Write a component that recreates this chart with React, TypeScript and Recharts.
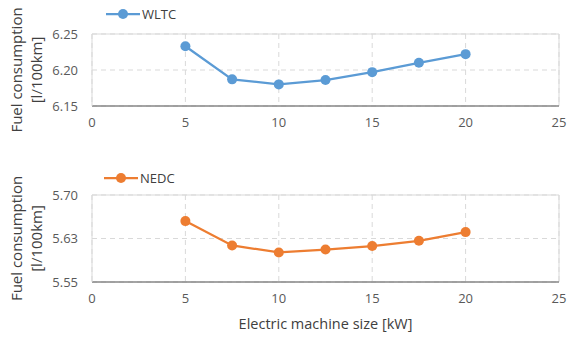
import {
  CartesianGrid,
  Legend,
  Line,
  LineChart,
  ReferenceLine,
  XAxis,
  YAxis,
} from "recharts";

const machineSize = [5, 7.5, 10, 12.5, 15, 17.5, 20];
const wltc = [6.233, 6.187, 6.18, 6.186, 6.197, 6.21, 6.222];
const nedc = [5.655, 5.613, 5.601, 5.606, 5.612, 5.621, 5.636];
const xTicks = [0, 5, 10, 15, 20, 25];
const wltcTicks = [6.15, 6.2, 6.25];
const nedcTicks = [5.55, 5.625, 5.7];

const wltcData = machineSize.map((x, i) => ({ x, value: wltc[i] }));
const nedcData = machineSize.map((x, i) => ({ x, value: nedc[i] }));

const FONT = "'Open Sans', sans-serif";
const TICK = { fill: "#595959", fontSize: 13, fontFamily: FONT };

const YTitle = (props: any) => {
  const { viewBox } = props;
  const cy = viewBox.y + viewBox.height / 2;
  return (
    <text
      transform={`translate(28, ${cy}) rotate(-90)`}
      textAnchor="middle"
      fill="#404040"
      fontSize={15}
      fontFamily={FONT}
    >
      <tspan x={0} dy="-0.4em">Fuel consumption</tspan>
      <tspan x={0} dy="1.35em">[l/100km]</tspan>
    </text>
  );
};

const makeLegend = (name: string, color: string) => () => (
  <div style={{ display: "flex", alignItems: "center", fontFamily: FONT, fontSize: 13, color: "#404040" }}>
    <svg width={34} height={12}>
      <line x1={0} y1={6} x2={34} y2={6} stroke={color} strokeWidth={2.25} />
      <circle cx={17} cy={6} r={5} fill={color} />
    </svg>
    <span style={{ marginLeft: 2 }}>{name}</span>
  </div>
);

interface PanelProps {
  data: { x: number; value: number }[];
  name: string;
  color: string;
  domain: [number, number];
  ticks: number[];
  height: number;
  marginTop: number;
  marginBottom: number;
  legendTop: number;
  legendLeft: number;
}

const Panel = (p: PanelProps) => (
  <LineChart
    width={567}
    height={p.height}
    data={p.data}
    margin={{ top: p.marginTop, right: 8, bottom: p.marginBottom, left: 0 }}
  >
    <CartesianGrid stroke="#d9d9d9" strokeDasharray="5 4" />
    <XAxis
      dataKey="x"
      type="number"
      domain={[0, 25]}
      ticks={xTicks}
      tick={TICK}
      tickSize={0}
      tickMargin={12}
      axisLine={{ stroke: "#868686", strokeWidth: 1.5 }}
      height={30}
    />
    <YAxis
      domain={p.domain}
      ticks={p.ticks}
      tick={TICK}
      tickSize={0}
      tickMargin={14}
      tickFormatter={(v: number) => v.toFixed(2)}
      axisLine={{ stroke: "#d9d9d9" }}
      width={92}
      label={{ content: YTitle }}
    />
    <ReferenceLine y={p.domain[1]} stroke="#d9d9d9" />
    <ReferenceLine x={25} stroke="#d9d9d9" />
    <Legend
      layout="horizontal"
      verticalAlign="middle"
      align="center"
      content={makeLegend(p.name, p.color)}
      wrapperStyle={{ position: "absolute", top: p.legendTop, left: p.legendLeft, width: "auto" }}
    />
    <Line
      dataKey="value"
      name={p.name}
      stroke={p.color}
      strokeWidth={2.25}
      dot={{ r: 5, fill: p.color, stroke: p.color, strokeWidth: 0 }}
      isAnimationActive={false}
    />
  </LineChart>
);

export default function App() {
  return (
    <div style={{ position: "absolute", left: 0, top: 0, width: 567, height: 338, background: "#fff" }}>
      <Panel
        data={wltcData}
        name="WLTC"
        color="#5B9BD5"
        domain={[6.15, 6.25]}
        ticks={wltcTicks}
        height={165}
        marginTop={34}
        marginBottom={29}
        legendTop={5}
        legendLeft={106}
      />
      <Panel
        data={nedcData}
        name="NEDC"
        color="#ED7D31"
        domain={[5.55, 5.7]}
        ticks={nedcTicks}
        height={173}
        marginTop={30}
        marginBottom={26}
        legendTop={4}
        legendLeft={104}
      />
      <div
        style={{
          position: "absolute",
          top: 314,
          left: 0,
          width: 567,
          paddingLeft: 84,
          boxSizing: "border-box",
          textAlign: "center",
          fontFamily: FONT,
          fontSize: 14.5,
          color: "#404040",
        }}
      >
        Electric machine size [kW]
      </div>
    </div>
  );
}
